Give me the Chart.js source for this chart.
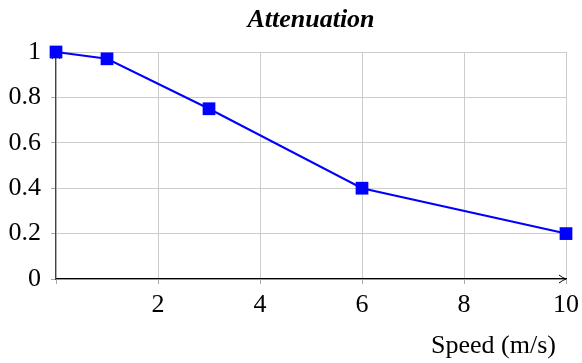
<!DOCTYPE html>
<html>
<head>
<meta charset="utf-8">
<script src="https://cdn.jsdelivr.net/npm/chart.js@4"></script>
<style>
  html, body { margin: 0; padding: 0; background: #fff; }
  #wrap { width: 582px; height: 363px; }
</style>
</head>
<body>
<div id="wrap"><canvas id="myChart"></canvas></div>
<script>
const speeds = [0, 1, 3, 6, 10];
const attenuation = [1, 0.97, 0.75, 0.4, 0.2];
const xTicks = [2, 4, 6, 8, 10];
const yTicks = [0, 0.2, 0.4, 0.6, 0.8, 1];

const chartTitle = 'Attenuation';
const xLabel = 'Speed (m/s)';

const serif = '"Liberation Serif", "DejaVu Serif", serif';

// title, axis label and arrow heads, pgfplots style
const extras = {
    id: 'extras',
    beforeDatasetsDraw(chart) {
        const { ctx, chartArea: a } = chart;
        ctx.save();
        ctx.strokeStyle = '#000';
        ctx.lineWidth = 1;
        ctx.beginPath();
        ctx.moveTo(a.right - 7, a.bottom - 4);
        ctx.quadraticCurveTo(a.right - 3, a.bottom - 1, a.right, a.bottom);
        ctx.quadraticCurveTo(a.right - 3, a.bottom + 1, a.right - 7, a.bottom + 4);
        ctx.stroke();
        ctx.beginPath();
        ctx.moveTo(a.left - 4, a.top + 7);
        ctx.quadraticCurveTo(a.left - 1, a.top + 3, a.left, a.top);
        ctx.quadraticCurveTo(a.left + 1, a.top + 3, a.left + 4, a.top + 7);
        ctx.stroke();
        ctx.restore();
    },
    afterDraw(chart) {
        const { ctx, chartArea: a } = chart;
        ctx.save();
        ctx.fillStyle = '#000';
        ctx.textBaseline = 'alphabetic';
        ctx.font = 'italic bold 26px ' + serif;
        ctx.textAlign = 'center';
        ctx.fillText(chartTitle, (a.left + a.right) / 2, 27);
        ctx.font = '26px ' + serif;
        ctx.textAlign = 'right';
        ctx.fillText(xLabel, 556, 353);
        ctx.restore();
    }
};

const ctx = document.getElementById('myChart').getContext('2d');

let myChart = new Chart(ctx, {
    type: 'scatter',
    data: {
        datasets: [
            {
                data: speeds.map((s, i) => ({ x: s, y: attenuation[i] })),
                showLine: true,
                borderColor: '#0000ff',
                backgroundColor: '#0000ff',
                borderWidth: 2,
                pointStyle: 'rect',
                pointRadius: 9,
                pointHoverRadius: 9,
                pointBorderWidth: 0,
                clip: false,
            },
        ],
    },
    options: {
        responsive: true,
        maintainAspectRatio: false,
        animation: false,
        layout: { padding: { top: 52, right: 16, bottom: 0, left: 0 } },
        plugins: {
            legend: { display: false },
            title: { display: false },
            tooltip: { enabled: false },
        },
        scales: {
            x: {
                type: 'linear',
                min: 0,
                max: 10,
                afterBuildTicks: (scale) => {
                    scale.ticks = [0].concat(xTicks).map(v => ({ value: v }));
                },
                afterFit: (scale) => {
                    scale.height = 84;
                    scale.paddingLeft = 0;
                    scale.paddingRight = 0;
                },
                ticks: {
                    color: '#000',
                    font: { family: serif, size: 26 },
                    padding: 6,
                    maxRotation: 0,
                    callback: (v) => (xTicks.includes(v) ? String(v) : ''),
                },
                grid: { color: '#cccccc', tickLength: 5, tickColor: '#aaaaaa' },
                border: { color: '#000', width: 1.2 },
            },
            y: {
                min: 0,
                max: 1,
                afterBuildTicks: (scale) => {
                    scale.ticks = yTicks.map(v => ({ value: v }));
                },
                afterFit: (scale) => {
                    scale.width = 56;
                    scale.paddingTop = 0;
                    scale.paddingBottom = 0;
                },
                ticks: {
                    color: '#000',
                    font: { family: serif, size: 26 },
                    padding: 10,
                    callback: (v) => String(v),
                },
                grid: { color: '#cccccc', tickLength: 5, tickColor: '#aaaaaa' },
                border: { color: '#444', width: 1.2 },
            },
        },
    },
    plugins: [extras],
});
</script>
</body>
</html>
